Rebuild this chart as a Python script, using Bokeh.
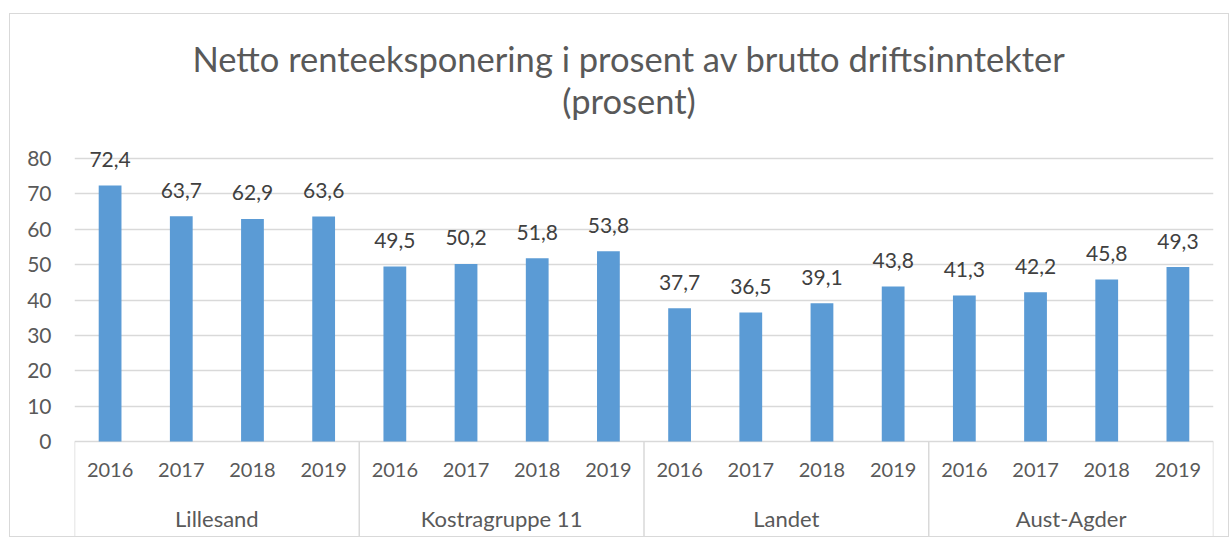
from bokeh.plotting import figure
from bokeh.models import FactorRange, Range1d, FixedTicker, ColumnDataSource
from bokeh.core.properties import value
from bokeh.embed import file_html
from bokeh.resources import INLINE

groups = ["Lillesand", "Kostragruppe 11", "Landet", "Aust-Agder"]
years = ["2016", "2017", "2018", "2019"]
lillesand = [72.4, 63.7, 62.9, 63.6]
kostragruppe_11 = [49.5, 50.2, 51.8, 53.8]
landet = [37.7, 36.5, 39.1, 43.8]
aust_agder = [41.3, 42.2, 45.8, 49.3]
y_ticks = [0, 10, 20, 30, 40, 50, 60, 70, 80]
title_lines = ["Netto renteeksponering i prosent av brutto driftsinntekter", "(prosent)"]

series = [lillesand, kostragruppe_11, landet, aust_agder]
factors = [(g, y) for g in groups for y in years]
vals = [v for s in series for v in s]
labels = [f"{v:.1f}".replace(".", ",") for v in vals]

FONT = "Lato"
TXT = "#595959"
GRID = "#D9D9D9"
BAR = "#5B9BD5"

y_bottom = -27.42
y_top = 120.71

p = figure(
    x_range=FactorRange(*factors, factor_padding=0, group_padding=0, subgroup_padding=0, range_padding=0),
    y_range=Range1d(y_bottom, y_top),
    width=1220, height=524,
    output_backend="svg", toolbar_location=None,
    x_axis_location=None,
    min_border_left=64, min_border_right=17, min_border_top=0, min_border_bottom=0,
)
p.margin = (13, 0, 0, 9)
p.outline_line_color = None
p.background_fill_color = "white"
p.border_fill_color = "white"

# chart title (two lines), centred over the chart
mid = (groups[1], years[-1], 0.5)
p.text(x=[mid, mid], y=[y_top, y_top], text=title_lines, text_align="center", text_baseline="middle",
       x_offset=-15, y_offset=[44, 86], text_font=value(FONT), text_font_size="34.5px", text_color=TXT)

src = ColumnDataSource(dict(x=factors, top=vals, label=labels))
p.vbar(x="x", top="top", bottom=0, width=0.32, source=src, fill_color=BAR, line_color=None)
p.text(x="x", y="top", text="label", source=src, text_align="center", text_baseline="middle",
       y_offset=-26, text_font=value(FONT), text_font_size="21px", text_color="#404040")

# category labels
p.text(x=factors, y=[0] * len(factors), text=[f[1] for f in factors], text_align="center",
       text_baseline="middle", y_offset=28, text_font=value(FONT), text_font_size="20px", text_color=TXT)
p.text(x=groups, y=[0] * len(groups), text=groups, text_align="center",
       text_baseline="middle", y_offset=77, text_font=value(FONT), text_font_size="22px", text_color=TXT)

# group separators
bounds = [(g, years[0], -0.5) for g in groups] + [(groups[-1], years[-1], 0.5)]
p.segment(x0=bounds, x1=bounds, y0=[0] * len(bounds), y1=[y_bottom] * len(bounds),
          line_color=GRID, line_width=1.5)

p.yaxis.ticker = FixedTicker(ticks=y_ticks)
p.ygrid.ticker = FixedTicker(ticks=y_ticks)
p.ygrid.grid_line_color = GRID
p.ygrid.grid_line_width = 1.5
p.xgrid.grid_line_color = None
p.yaxis.axis_line_color = None
p.yaxis.major_tick_line_color = None
p.yaxis.minor_tick_line_color = None
p.yaxis.major_tick_out = 0
p.yaxis.major_label_standoff = 23
p.yaxis.major_label_text_font = FONT
p.yaxis.major_label_text_font_size = "21px"
p.yaxis.major_label_text_color = TXT

p.styles = {"border": "1px solid #D9D9D9"}

open("out.html", "w").write(file_html(p, INLINE))
